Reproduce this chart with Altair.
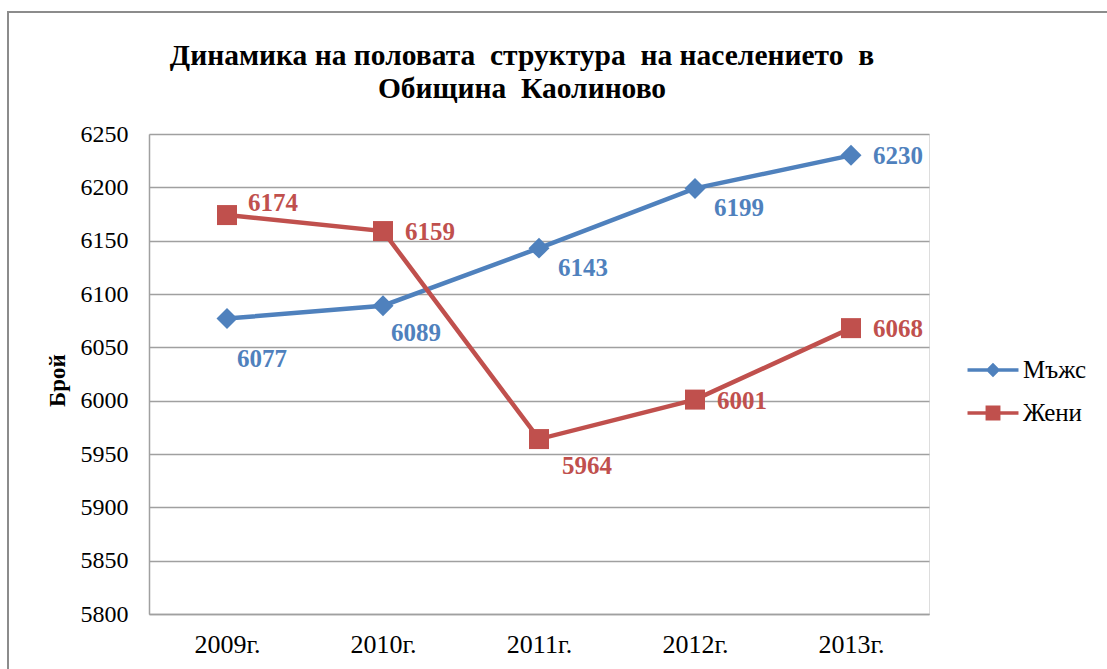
import altair as alt
import pandas as pd

years = ["2009г.", "2010г.", "2011г.", "2012г.", "2013г."]
men = [6077, 6089, 6143, 6199, 6230]
women = [6174, 6159, 5964, 6001, 6068]
men_label_pos = ["below2", "belowleft", "below", "below", "right"]
women_label_pos = ["aboveright", "right", "belowright", "right", "right"]
series_names = ["Мъжс", "Жени"]
y_ticks = [5800, 5850, 5900, 5950, 6000, 6050, 6100, 6150, 6200, 6250]
title_lines = ["Динамика на половата\u00a0 структура\u00a0 на населението\u00a0 в",
               "Обищина\u00a0 Каолиново"]

BLUE = "#4F81BD"
RED = "#C0504D"
SERIF = "Liberation Serif"

rows = []
for i, y in enumerate(years):
    rows.append({"year": y, "series": series_names[0], "value": men[i], "pos": men_label_pos[i]})
for i, y in enumerate(years):
    rows.append({"year": y, "series": series_names[1], "value": women[i], "pos": women_label_pos[i]})
df = pd.DataFrame(rows)

placements = {
    "right": (22, 1),
    "aboveright": (21, -12),
    "below": (19, 20),
    "belowleft": (8, 27),
    "belowright": (23, 27),
    "below2": (10, 40),
}

x_enc = alt.X("year:N", sort=years, title=None,
              scale=alt.Scale(type="point", padding=0.5),
              axis=alt.Axis(labelFont=SERIF, labelFontSize=26, labelColor="#000",
                            labelPadding=17, ticks=False, domainColor="#A0A0A0",
                            domainWidth=1.5, grid=False, labelAngle=0))
y_enc = alt.Y("value:Q", title="Брой",
              scale=alt.Scale(domain=[5800, 6250], nice=False, zero=False),
              axis=alt.Axis(values=y_ticks, format="d", labelFont=SERIF, labelFontSize=24,
                            labelColor="#000", labelPadding=21, ticks=False,
                            domainColor="#A0A0A0", domainWidth=1.5,
                            gridColor="#A0A0A0", gridWidth=1.5,
                            titleFont=SERIF, titleFontSize=23, titleFontWeight="bold",
                            titleColor="#000", titleX=-92, titleY=246,
                            titleAngle=270, titleBaseline="middle", titleAlign="center"))

base = alt.Chart(df)

layers = []
for name, col in [(series_names[0], BLUE), (series_names[1], RED)]:
    layers.append(base.transform_filter(alt.datum.series == name)
                  .mark_line(color=col, strokeWidth=4.5)
                  .encode(x=x_enc, y=y_enc))
layers.append(base.transform_filter(alt.datum.series == series_names[0])
              .mark_point(shape="diamond", filled=True, opacity=1, color=BLUE, size=440)
              .encode(x=x_enc, y=y_enc))
layers.append(base.transform_filter(alt.datum.series == series_names[1])
              .mark_point(shape="square", filled=True, opacity=1, color=RED, size=400)
              .encode(x=x_enc, y=y_enc))

for p, (dx, dy) in placements.items():
    layers.append(base.transform_filter(alt.datum.pos == p)
                  .mark_text(align="left", baseline="middle", dx=dx, dy=dy,
                             font=SERIF, fontSize=25, fontWeight="bold")
                  .encode(x=x_enc, y=y_enc, text="value:Q",
                          color=alt.condition(alt.datum.series == series_names[0],
                                              alt.value(BLUE), alt.value(RED))))

legend_paths = [
    "M-1.3,-0.09H1.3V0.09H-1.3Z M0,-0.37L0.37,0L0,0.37L-0.37,0Z",
    "M-1.3,-0.09H1.3V0.09H-1.3Z M-0.38,-0.38H0.38V0.38H-0.38Z",
]
# legend-only layer: no rows are drawn, the legend comes from the scale domain
layers.append(base.transform_filter("false").mark_point(filled=True, opacity=1).encode(
    x=x_enc, y=y_enc,
    color=alt.Color("series:N", scale=alt.Scale(domain=series_names, range=[BLUE, RED]),
                    legend=alt.Legend(title=None, orient="none", legendX=824, legendY=216,
                                      labelFont=SERIF, labelFontSize=25, labelColor="#000",
                                      symbolSize=1537, labelOffset=10, rowPadding=10,
                                      symbolStrokeWidth=0, symbolOpacity=1)),
    shape=alt.Shape("series:N", scale=alt.Scale(domain=series_names, range=legend_paths)),
))

border = alt.Chart(alt.Data(values=[{"a": 1}])).mark_rect(
    fill=None, fillOpacity=0, stroke="#8C8C8C", strokeWidth=2).encode(
    x=alt.value(-141), x2=alt.value(990), y=alt.value(-122), y2=alt.value(580))

chart = alt.layer(border, *layers).properties(
    width=780, height=480,
    title=alt.TitleParams(
        text=title_lines,
        font=SERIF, fontSize=29.5, fontWeight="bold", color="#000",
        anchor="middle", dx=-17, offset=-93, lineHeight=33),
    autosize=alt.AutoSizeParams(type="none"),
    padding={"left": 149, "top": 134, "right": 178, "bottom": 55},
).configure_view(stroke=None).configure(
    background="white", font=SERIF
).configure_axis(labelFont=SERIF, titleFont=SERIF).configure_title(font=SERIF)

chart.save("out.html", embed_options={"renderer": "svg", "actions": False})
